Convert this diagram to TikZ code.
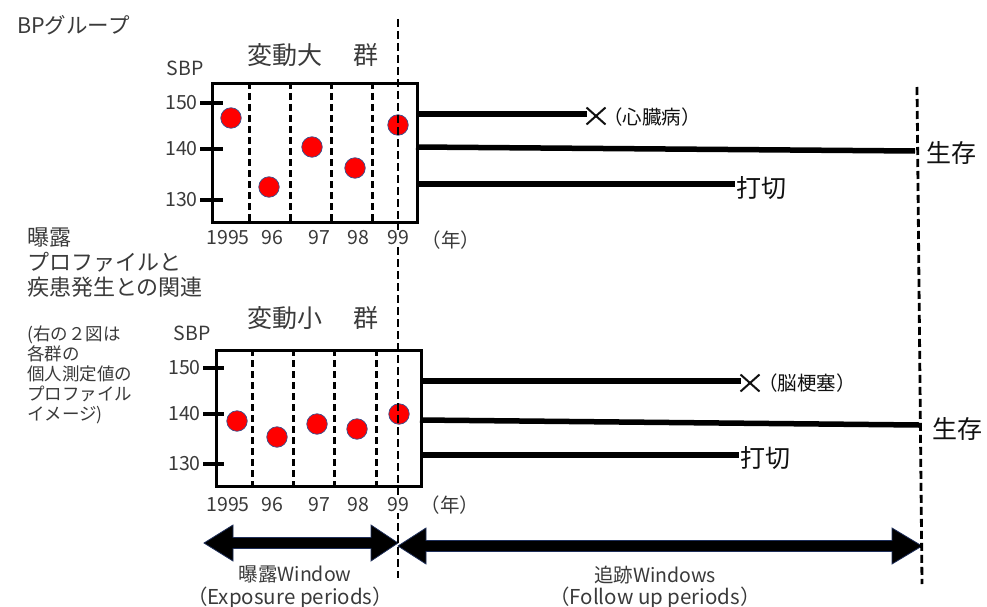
\documentclass[tikz,border=0pt]{standalone}
\usepackage{fontspec}
\setmainfont{Noto Sans CJK JP}
\usetikzlibrary{shapes.misc,calc}
\definecolor{txt}{HTML}{3A3A3A}
\definecolor{ink}{HTML}{111111}
\definecolor{dotedge}{HTML}{3B4F8C}
\definecolor{arrowedge}{HTML}{1F2F5A}
\newcommand{\fs}[2]{\fontsize{#1}{#2}\selectfont}

\begin{document}
\begin{tikzpicture}[x=1pt,y=-1pt,
  lbl/.style={inner sep=0pt, text=txt},
  title/.style={lbl, font=\fs{25}{28}},
  axisnum/.style={lbl, font=\fs{19.5}{22}, anchor=east},
  yearnum/.style={inner sep=1pt, text=txt, fill=white, font=\fs{19.5}{22}},
  outcome/.style={inner sep=1pt, text=ink, font=\fs{25}{28}},
  event/.style={inner sep=0pt, text=ink, font=\fs{19.5}{20}},
  frame/.style={draw, line width=3.4pt, inner sep=0pt},
  sepline/.style={line width=3pt, dash pattern=on 7pt off 4pt},
  guide/.style={line width=2.8pt, dash pattern=on 8pt off 4pt},
  tickline/.style={line width=3.4pt},
  track/.style={line width=5.5pt},
  dot/.style={circle, fill=red, draw=dotedge, line width=0.7pt, minimum size=20.5pt, inner sep=0pt},
  death/.style={cross out, draw=ink, line width=2pt, minimum width=17pt, minimum height=15pt, inner sep=0pt},
  fatarrow/.style={fill=black, draw=arrowedge, line width=0.8pt, line join=miter}
]
\useasboundingbox (0,0) rectangle (987,607);

% ---------- left-hand captions ----------
\node[lbl, anchor=west, font=\fs{21.5}{24}] (grp) at (17,25) {BPグループ};
\node[lbl, anchor=west, align=left, font=\fs{22}{25}] (assoc) at (27,263)
  {曝露\\プロファイルと\\疾患発生との関連};
\node[lbl, anchor=west, align=left, font=\fs{17.5}{20}] (note) at (27,375)
  {(右の２図は\\各群の\\個人測定値の\\プロファイル\\イメージ)};

% ---------- upper panel: large variability ----------
\node[title] (t1a) at (285,55) {変動大};
\node[title] (t1b) at (366,55) {群};
\node[lbl, font=\fs{19.5}{21}] (sbp1) at (185,68) {SBP};
\node[frame, anchor=north west, minimum width=205pt, minimum height=139pt] (box1) at (211,82) {};
\foreach \x in {249,290,331,372}
  \draw[sepline] (\x,82) -- (\x,221);
\foreach \v/\y in {150/103,140/149,130/200}{
  \draw[tickline] (200,\y) -- (223,\y);
  \node[axisnum] at (198,\y) {\v};
}
\node[dot] (u1) at (231,118) {};
\node[dot] (u2) at (269,187) {};
\node[dot] (u3) at (312,147) {};
\node[dot] (u4) at (355,168) {};
\node[dot] (u5) at (398,125) {};

% ---------- lower panel: small variability ----------
\node[title] (t2a) at (285,318) {変動小};
\node[title] (t2b) at (366,318) {群};
\node[lbl, font=\fs{19.5}{21}] (sbp2) at (192,333) {SBP};
\node[frame, anchor=north west, minimum width=205pt, minimum height=136pt] (box2) at (215,349) {};
\foreach \x in {252,293,334,376}
  \draw[sepline] (\x,349) -- (\x,485);
\foreach \v/\y in {150/368,140/414,130/464}{
  \draw[tickline] (203,\y) -- (224,\y);
  \node[axisnum] at (201,\y) {\v};
}
\node[dot] (l1) at (237,421) {};
\node[dot] (l2) at (277,437) {};
\node[dot] (l3) at (317,424) {};
\node[dot] (l4) at (357,429) {};
\node[dot] (l5) at (399,414) {};

% ---------- window arrows ----------
\coordinate (eL) at (204,543);
\coordinate (eR) at (398,543);
\coordinate (fL) at (398,546);
\coordinate (fR) at (922,546);
\draw[fatarrow] (eL) -- ($(eL)+(29,-18)$) -- ($(eL)+(29,-5.5)$) -- ($(eR)+(-27,-5.5)$)
  -- ($(eR)+(-27,-18)$) -- (eR) -- ($(eR)+(-27,18)$) -- ($(eR)+(-27,5.5)$)
  -- ($(eL)+(29,5.5)$) -- ($(eL)+(29,18)$) -- cycle;
\draw[fatarrow] (fL) -- ($(fL)+(28,-18)$) -- ($(fL)+(28,-5.5)$) -- ($(fR)+(-30,-5.5)$)
  -- ($(fR)+(-30,-18)$) -- (fR) -- ($(fR)+(-30,18)$) -- ($(fR)+(-30,5.5)$)
  -- ($(fL)+(28,5.5)$) -- ($(fL)+(28,18)$) -- cycle;
\node[lbl, font=\fs{19.5}{22}] (expw) at (295,574) {曝露Window};
\node[lbl, font=\fs{20.5}{22}] (expp) at (290,598) {（Exposure periods）};
\node[lbl, font=\fs{19.5}{22}] (fupw) at (655,575) {追跡Windows};
\node[lbl, font=\fs{20.5}{22}] (fupp) at (655,598) {（Follow up periods）};

% ---------- start of follow-up and end of observation ----------
\coordinate (g0) at (398,19);
\coordinate (g1) at (398,578);
\draw[guide] (g0) -- (g1);
\coordinate (h0) at (917,87);
\coordinate (h1) at (922,584);
\draw[guide] (h0) -- (h1);

% ---------- year axis labels ----------
\foreach \lab/\x in {1995/228,96/272,97/319,98/358,99/398}{
  \node[yearnum] at (\x,238) {\lab};
  \node[yearnum] at (\x,505) {\lab};
}
\node[yearnum] (yr1) at (451,240) {（年）};
\node[yearnum] (yr2) at (450,505) {（年）};

% ---------- follow-up tracks, upper group ----------
\node[death] (x1) at (596,116) {};
\node[event, anchor=west] (ev1) at (603,117) {（心臓病）};
\coordinate (a1) at (416,114);
\draw[track] (a1) -- (a1 -| x1.west);
\coordinate (a2) at (416,147);
\coordinate (s1) at (915,151);
\draw[track] (a2) -- (s1);
\node[outcome, anchor=west] (live1) at (925,153) {生存};
\node[outcome] (cut1) at (761,188) {打切};
\coordinate (a3) at (416,184);
\draw[track] (a3) -- (a3 -| cut1.west);

% ---------- follow-up tracks, lower group ----------
\node[death] (x2) at (750,383) {};
\node[event, anchor=west] (ev2) at (758,383) {（脳梗塞）};
\coordinate (b1) at (420,381);
\draw[track] (b1) -- (b1 -| x2.west);
\coordinate (b2) at (420,420);
\coordinate (s2) at (919,425);
\draw[track] (b2) -- (s2);
\node[outcome, anchor=west] (live2) at (931,429) {生存};
\node[outcome] (cut2) at (765,458) {打切};
\coordinate (b3) at (420,455);
\draw[track] (b3) -- (b3 -| cut2.west);
\end{tikzpicture}
\end{document}
